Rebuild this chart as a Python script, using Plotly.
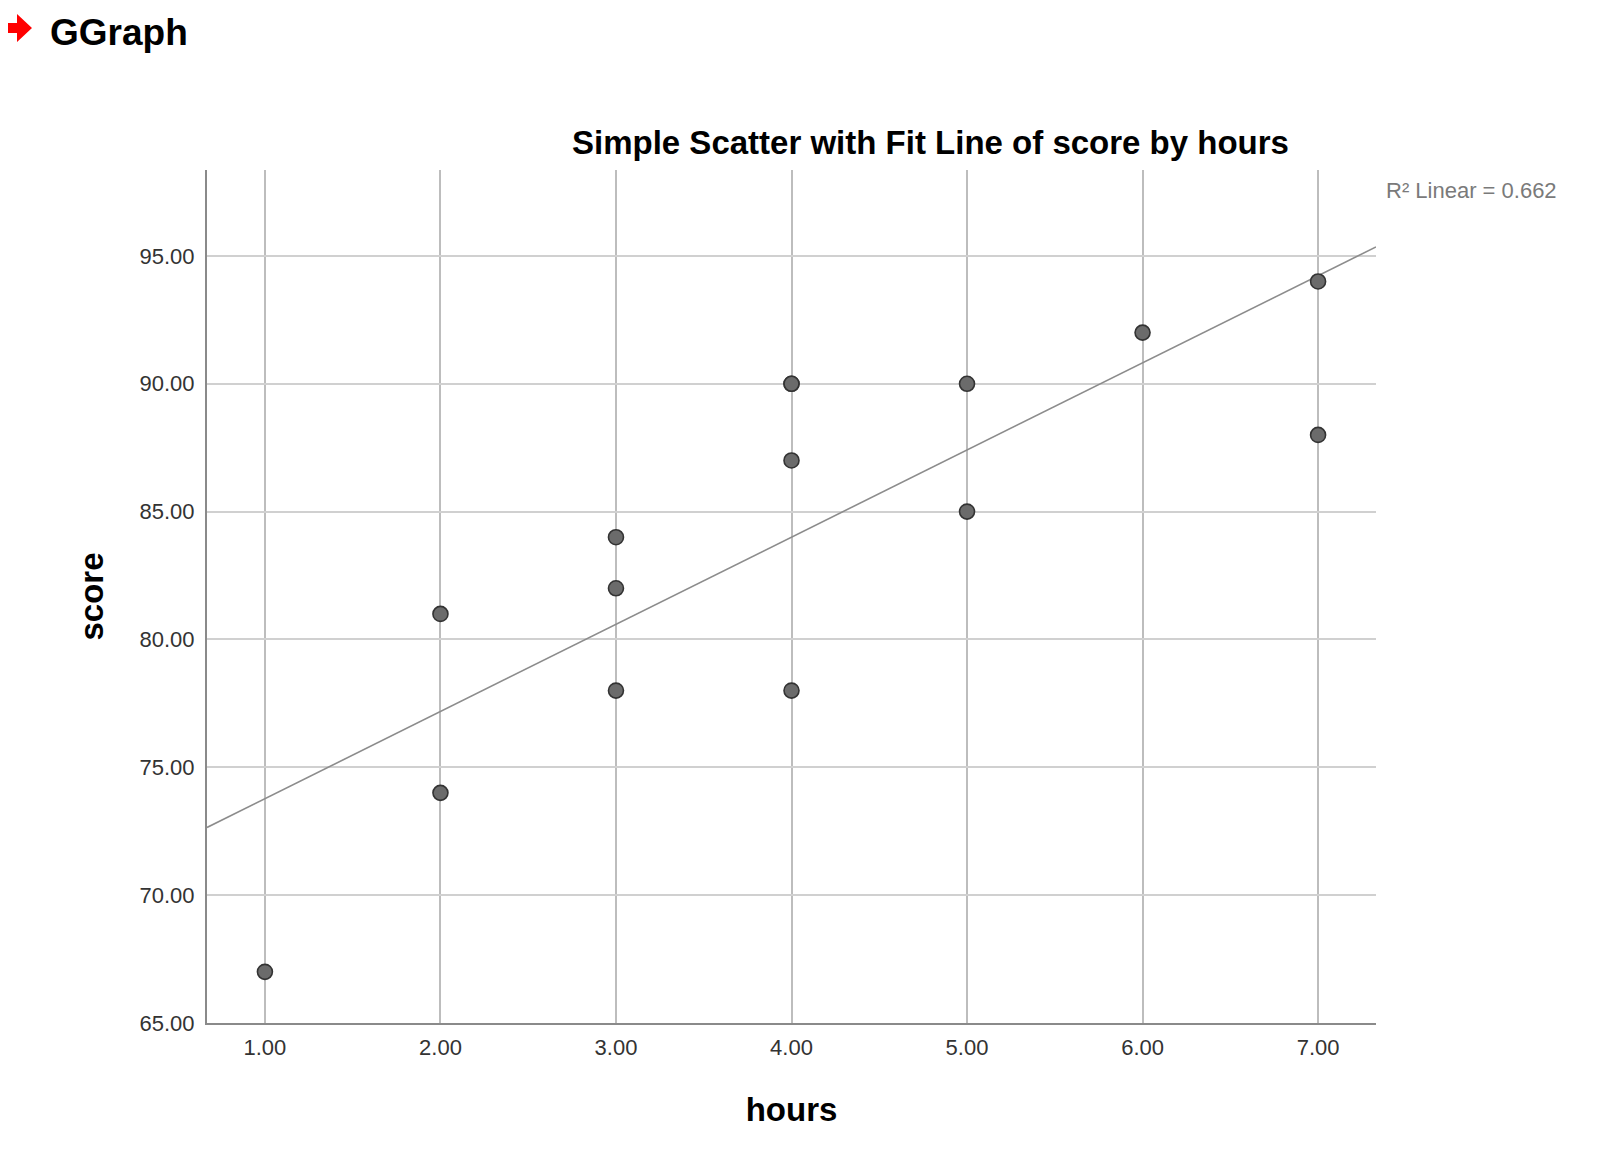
import numpy as np
import plotly.graph_objects as go

# data (hours studied vs exam score)
hours = [1, 2, 2, 3, 3, 3, 4, 4, 4, 4, 5, 5, 6, 7, 7]
score = [67, 74, 81, 78, 82, 84, 78, 87, 90, 90, 85, 90, 92, 88, 94]
x_ticks = [1, 2, 3, 4, 5, 6, 7]
y_ticks = [65, 70, 75, 80, 85, 90, 95]

# page is 1600x1151, the html body has an 8px margin round the figure
PAD = 8
W, H = 1600 - 2 * PAD, 1151 - 2 * PAD
L, R, T, B = 207 - PAD, W - (1376 - PAD), 170 - PAD, H - (1023 - PAD)
x_range = [0.67, 7.33]
y_range = [65, 98.36]

# least squares fit line, like SPSS "Fit Line at Total"
slope, intercept = np.polyfit(hours, score, 1)
pred = np.polyval([slope, intercept], hours)
r2 = 1 - np.sum((np.array(score) - pred) ** 2) / np.sum((np.array(score) - np.mean(score)) ** 2)
fit_x = np.array(x_range)
fit_y = slope * fit_x + intercept


def px(xp, yp):
	# pixel position on the page -> paper coordinates
	xf, yf = xp - PAD, yp - PAD
	return (xf - L) / (W - L - R), (H - B - yf) / (H - T - B)


fig = go.Figure()
fig.add_trace(go.Scatter(x=fit_x, y=fit_y, mode='lines', line=dict(color='#8c8c8c', width=1.6),
						 hoverinfo='skip'))
fig.add_trace(go.Scatter(x=hours, y=score, mode='markers',
						 marker=dict(size=15, color='#6b6b6b', line=dict(color='#333333', width=1.6))))

font = 'Liberation Sans, Arial, sans-serif'
fig.update_layout(
	width=W, height=H,
	margin=dict(l=L, r=R, t=T, b=B),
	paper_bgcolor='white', plot_bgcolor='white',
	showlegend=False,
	font=dict(family=font, color='#333333'),
)
fig.update_xaxes(range=x_range, tickvals=x_ticks, ticktext=['%.2f' % v for v in x_ticks],
				 tickfont=dict(size=22, color='#333333'), ticks='outside', ticklen=4, tickcolor='rgba(0,0,0,0)',
				 showgrid=True, gridcolor='#bdbdbd', gridwidth=1.5, zeroline=False,
				 showline=True, linecolor='#8a8a8a', linewidth=2,
				 title=dict(text='<b>hours</b>', font=dict(size=33, color='#000000'), standoff=38))
fig.update_yaxes(range=y_range, tickvals=y_ticks, ticktext=['%.2f' % v for v in y_ticks],
				 tickfont=dict(size=22, color='#333333'), ticks='outside', ticklen=6, tickcolor='rgba(0,0,0,0)',
				 showgrid=True, gridcolor='#d0d0d0', gridwidth=2, zeroline=False,
				 showline=True, linecolor='#8a8a8a', linewidth=2,
				 title=dict(text='<b>score</b>', font=dict(size=33, color='#000000'), standoff=26))

tx, ty = px(930, 142)
fig.add_annotation(x=tx, y=ty, xref='paper', yref='paper', showarrow=False, xanchor='center', yanchor='middle',
				   text='<b>Simple Scatter with Fit Line of score by hours</b>',
				   font=dict(family=font, size=33, color='#000000'))
gx, gy = px(48, 32)
fig.add_annotation(x=gx, y=gy, xref='paper', yref='paper', showarrow=False, xanchor='left', yanchor='middle',
				   text='<b>GGraph</b>', font=dict(family=font, size=37, color='#000000'))
rx, ry = px(1384, 190)
fig.add_annotation(x=rx, y=ry, xref='paper', yref='paper', showarrow=False, xanchor='left', yanchor='middle',
				   text='R² Linear = %.3f' % r2, font=dict(family=font, size=22, color='#7a7a7a'))

# red arrow in front of GGraph
arrow = [(3, 23), (17, 23), (17, 14), (32, 28), (17, 42), (17, 33), (3, 33)]
path = 'M ' + ' L '.join('%.5f,%.5f' % px(a, b) for a, b in arrow) + ' Z'
fig.add_shape(type='path', path=path, xref='paper', yref='paper',
			  fillcolor='#ff0000', line=dict(color='#ff0000', width=0))

fig.write_html('out.html')
